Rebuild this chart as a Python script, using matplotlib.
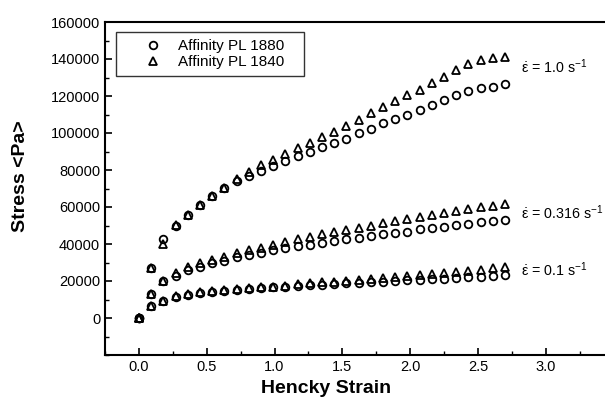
import numpy as np
import matplotlib
matplotlib.use("Agg")
import matplotlib.pyplot as plt
from matplotlib.ticker import MultipleLocator

plt.rcParams['font.family'] = ['Liberation Sans', 'DejaVu Sans']
plt.rcParams['mathtext.fontset'] = 'custom'
plt.rcParams['mathtext.rm'] = 'Liberation Sans'
plt.rcParams['mathtext.it'] = 'Liberation Sans'

# Hencky strain, same for every run
strain = [0.0, 0.09, 0.18, 0.27, 0.36, 0.45, 0.54, 0.63, 0.72, 0.81,
          0.90, 0.99, 1.08, 1.17, 1.26, 1.35, 1.44, 1.53, 1.62, 1.71,
          1.80, 1.89, 1.98, 2.07, 2.16, 2.25, 2.34, 2.43, 2.52, 2.61, 2.70]

# rate 1.0 1/s
pl1880_r1 = [0, 27000, 42700, 50000, 55700, 61000, 66000, 70300, 74000, 77000,
             79500, 82000, 84600, 87300, 89500, 92400, 94500, 96800, 100200, 102200,
             105300, 107400, 109800, 112400, 115100, 117800, 120500, 122500, 124100, 125000, 126500]
pl1840_r1 = [0, 27000, 40000, 50300, 55700, 61000, 66000, 70300, 75000, 79000,
             82500, 85500, 88600, 91700, 94800, 98000, 100700, 103800, 107000, 110600,
             114200, 117400, 120500, 123200, 127200, 130300, 134000, 137300, 139600, 140500, 141000]

# rate 0.316 1/s
pl1880_r316 = [0, 13000, 20000, 22700, 26000, 27500, 29500, 31000, 33000, 34000,
               35000, 36500, 38000, 38900, 39500, 40700, 41800, 42500, 43400, 44300,
               45200, 46100, 46600, 47900, 48500, 49300, 50300, 51000, 51800, 52500, 53000]
pl1840_r316 = [0, 13000, 20000, 24500, 27500, 29500, 31500, 33000, 35000, 36500,
               38000, 39500, 41200, 42800, 43900, 45200, 46400, 47600, 48800, 50000,
               51200, 52400, 53500, 54700, 55800, 57000, 58000, 59000, 60000, 60800, 61500]

# rate 0.1 1/s
pl1880_r01 = [0, 6500, 9000, 11500, 12500, 13500, 14000, 14500, 15000, 15500,
              16000, 16500, 17000, 17300, 17700, 18000, 18400, 18700, 19000, 19400,
              19700, 20000, 20400, 20700, 21000, 21300, 21700, 22000, 22400, 22800, 23100]
pl1840_r01 = [0, 6500, 9000, 12000, 13000, 14000, 14500, 15000, 15500, 16000,
              16500, 17000, 17500, 18300, 18800, 19300, 19700, 20100, 20600, 21000,
              21500, 22000, 22500, 23000, 23600, 24200, 24800, 25500, 26200, 26900, 27500]

rate_labels = [r'$\dot{\varepsilon}$ = 1.0 s$^{-1}$',
               r'$\dot{\varepsilon}$ = 0.316 s$^{-1}$',
               r'$\dot{\varepsilon}$ = 0.1 s$^{-1}$']
rate_label_y = [135700, 56700, 26000]

fig = plt.figure(figsize=(6.05, 4.03), dpi=100)
ax = fig.add_axes([105 / 605, 48 / 403, 500 / 605, 333 / 403])

mk = dict(linestyle='none', markerfacecolor='none', markeredgecolor='black',
          markeredgewidth=1.3, markersize=5.5)
for i, (c, t) in enumerate([(pl1880_r1, pl1840_r1), (pl1880_r316, pl1840_r316),
                            (pl1880_r01, pl1840_r01)]):
    ax.plot(strain, c, marker='o', label='Affinity PL 1880   ' if i == 0 else None, **mk)
    ax.plot(strain, t, marker='^', label='Affinity PL 1840   ' if i == 0 else None, **mk)

for lab, yy in zip(rate_labels, rate_label_y):
    ax.text(2.82, yy, lab, fontsize=10.3, va='center', ha='left')

ax.set_xlim(-0.25, 3.437)
ax.set_ylim(-20000, 160000)
ax.set_xticks([0.0, 0.5, 1.0, 1.5, 2.0, 2.5, 3.0])
ax.set_xticklabels(['0.0', '0.5', '1.0', '1.5', '2.0', '2.5', '3.0'])
ax.set_yticks(np.arange(0, 160001, 20000))
ax.xaxis.set_minor_locator(MultipleLocator(0.25))
ax.yaxis.set_minor_locator(MultipleLocator(10000))
ax.tick_params(which='both', direction='in', labelsize=10.5, top=False, right=False)
ax.tick_params(which='major', length=5, width=1.2)
ax.tick_params(which='minor', length=3, width=1.0)
ax.spines['right'].set_visible(False)
for s in ['left', 'bottom', 'top']:
    ax.spines[s].set_linewidth(1.5)

ax.set_xlabel('Hencky Strain', fontsize=14, fontweight='bold')
ax.xaxis.set_label_coords(0.442, -0.075)
ax.set_ylabel('Stress <Pa>', fontsize=14, fontweight='bold')
ax.yaxis.set_label_coords(-0.152, 0.537)

leg = ax.legend(loc='upper left', bbox_to_anchor=(0.022, 0.97), borderaxespad=0,
                fontsize=11, frameon=True, fancybox=False, edgecolor='black',
                handlelength=3.9, handletextpad=-0.3, borderpad=0.45,
                labelspacing=0.15)
leg.get_frame().set_linewidth(1.0)

fig.savefig('out.png', dpi=100)
